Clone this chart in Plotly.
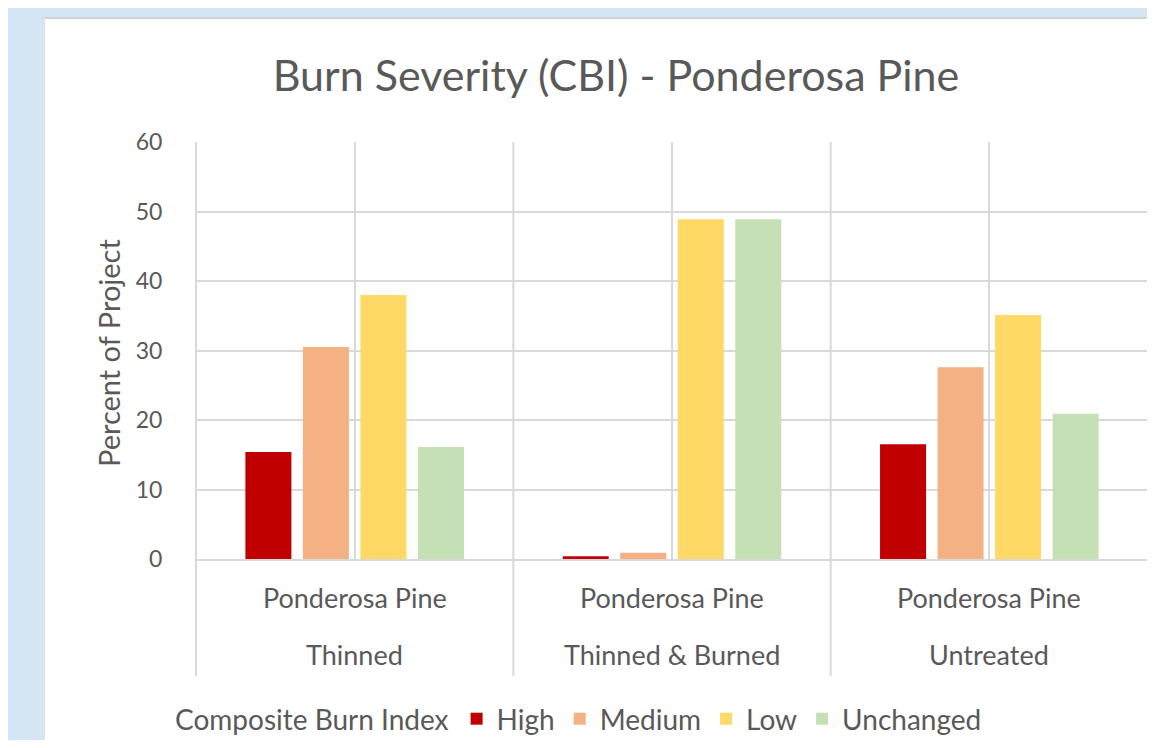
import plotly.graph_objects as go

# data
treatments = ["Thinned", "Thinned & Burned", "Untreated"]
forest_type = "Ponderosa Pine"
severity = ["High", "Medium", "Low", "Unchanged"]
high = [15.4, 0.4, 16.5]
medium = [30.5, 0.9, 27.6]
low = [38.0, 48.9, 35.1]
unchanged = [16.1, 48.9, 20.9]
y_ticks = [0, 10, 20, 30, 40, 50, 60]

colors = ["#C00000", "#F4B183", "#FFD966", "#C5E0B4"]
text_color = "#595959"
grid_color = "#D9D9D9"
sheet_color = "#D4E6F4"
font_family = "Lato, 'Open Sans', sans-serif"

fig = go.Figure()
for name, values, color in zip(severity, [high, medium, low, unchanged], colors):
    fig.add_trace(go.Bar(
        x=treatments,
        y=values,
        name=name,
        marker=dict(color=color, line=dict(width=0)),
    ))

# the page body keeps its default 8px margin, so the figure is drawn 8px in
OFF = 8
W, H = 1155 - OFF, 748 - 2 * OFF
# plot area in screen pixels
PX0, PX1, PY0, PY1 = 195, 1149, 142, 559
L, R, T, B = PX0 - OFF, W - (PX1 - OFF), PY0 - OFF, H - (PY1 - OFF)
pw, ph = PX1 - PX0, PY1 - PY0


def px_x(x):
    return (x - PX0) / pw


def px_y(y):
    return (PY1 - y) / ph


shapes = [
    # blue sheet around the white chart panel
    dict(type="rect", xref="paper", yref="paper", layer="below",
         x0=px_x(0), x1=px_x(45), y0=px_y(800), y1=px_y(0),
         fillcolor=sheet_color, line=dict(width=0)),
    dict(type="rect", xref="paper", yref="paper", layer="below",
         x0=px_x(0), x1=px_x(1200), y0=px_y(17), y1=px_y(0),
         fillcolor=sheet_color, line=dict(width=0)),
    dict(type="line", xref="paper", yref="paper", layer="below",
         x0=px_x(45), x1=px_x(1200), y0=px_y(18), y1=px_y(18),
         line=dict(color="#D0D0D0", width=2)),
]
# group dividers running through the category label rows
for i in range(len(treatments) + 1):
    shapes.append(dict(type="line", xref="x", yref="paper", layer="below",
                       x0=i - 0.5, x1=i - 0.5, y0=px_y(676), y1=1,
                       line=dict(color=grid_color, width=2)))

annotations = []
for i, t in enumerate(treatments):
    annotations.append(dict(text=forest_type, x=i, xref="x", y=px_y(597), yref="paper",
                            showarrow=False, yanchor="middle",
                            font=dict(size=27, color=text_color)))
    annotations.append(dict(text=t, x=i, xref="x", y=px_y(654), yref="paper",
                            showarrow=False, yanchor="middle",
                            font=dict(size=27, color=text_color)))
annotations.append(dict(text="Percent of Project", textangle=-90,
                        x=px_x(108), xref="paper", y=px_y(353), yref="paper",
                        xanchor="center", yanchor="middle", showarrow=False,
                        font=dict(size=29, color=text_color)))

fig.update_layout(
    width=W, height=H,
    margin=dict(l=L, r=R, t=T, b=B, autoexpand=False),
    paper_bgcolor="white",
    plot_bgcolor="white",
    font=dict(family=font_family, color=text_color),
    title=dict(text="Burn Severity (CBI) - Ponderosa Pine",
               x=(616 - OFF) / W, y=1 - (76 - OFF) / H, xanchor="center", yanchor="middle",
               font=dict(size=43, color=text_color)),
    barmode="group",
    bargap=0.275,
    bargroupgap=0.2,
    xaxis=dict(showticklabels=False, showgrid=True, gridcolor=grid_color, gridwidth=2,
               showline=True, linecolor=grid_color, linewidth=2, ticks=""),
    yaxis=dict(range=[0, 60], tickvals=y_ticks, showgrid=True, gridcolor=grid_color,
               gridwidth=2, zeroline=False, showline=False,
               ticks="outside", ticklen=27, tickcolor="rgba(0,0,0,0)",
               tickfont=dict(size=23, color=text_color)),
    legend=dict(orientation="h", x=px_x(580), xanchor="center", y=px_y(719), yanchor="middle",
                title=dict(text="Composite Burn Index", side="left",
                           font=dict(size=28, color=text_color)),
                font=dict(size=28, color=text_color), bgcolor="rgba(0,0,0,0)",
                itemwidth=30, traceorder="normal"),
    shapes=shapes,
    annotations=annotations,
)

fig.write_html("out.html")
